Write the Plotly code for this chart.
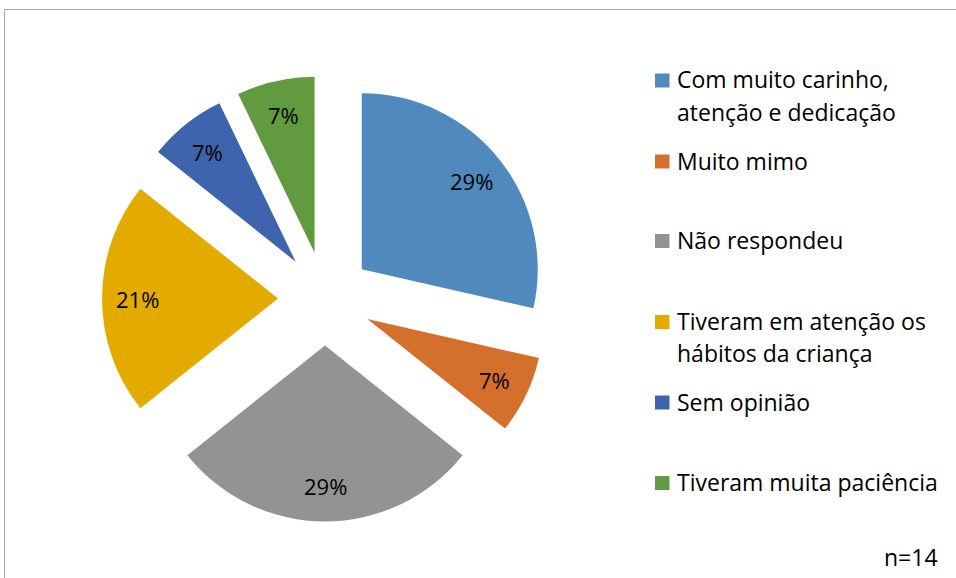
import math
import plotly.graph_objects as go

labels = ["Com muito carinho, atenção e dedicação", "Muito mimo", "Não respondeu",
          "Tiveram em atenção os hábitos da criança", "Sem opinião", "Tiveram muita paciência"]
legend_lines = [["Com muito carinho,", "atenção e dedicação"], ["Muito mimo"], ["Não respondeu"],
                ["Tiveram em atenção os", "hábitos da criança"], ["Sem opinião"], ["Tiveram muita paciência"]]
values = [4, 1, 4, 3, 1, 1]
colors = ["#4F89BD", "#D56F2C", "#939393", "#E3AA00", "#3D64AD", "#629A40"]
note = "n=14"

W, H = 956, 578
FONT = "Open Sans"
FS = 22
FS_LEG = 23

# pie geometry (pixels)
CX, CY, R, PULL = 325, 298.5, 176, 0.267
half = R * (1 + PULL)

fig = go.Figure(go.Pie(
    labels=labels, values=values, sort=False, direction="clockwise", rotation=0,
    marker=dict(colors=colors, line=dict(width=0)),
    pull=[PULL] * len(values),
    textinfo="none",
    domain=dict(x=[(CX - half) / W, (CX + half) / W], y=[1 - (CY + half) / H, 1 - (CY - half) / H]),
    showlegend=False, hoverinfo="label+percent",
))

annotations = []
shapes = []

# percentage labels, placed along each slice bisector
total = sum(values)
cum = 0
for v in values:
    mid = (cum + v / 2) / total * 2 * math.pi
    cum += v
    dist = PULL * R + 0.8 * R
    px = CX + dist * math.sin(mid)
    py = CY - dist * math.cos(mid)
    annotations.append(dict(text=f"{round(100 * v / total)}%", xref="paper", yref="paper",
                            x=px / W, y=1 - py / H, xanchor="center", yanchor="middle",
                            showarrow=False, font=dict(family=FONT, size=FS, color="black")))

# manual legend (layout positions, px from top)
leg_y = [80.5, 161.5, 241, 322, 402.5, 483]
LINE = 32
for lines, col, y in zip(legend_lines, colors, leg_y):
    shapes.append(dict(type="rect", xref="paper", yref="paper",
                       x0=655 / W, x1=669.5 / W, y0=1 - (y + 7) / H, y1=1 - (y - 7) / H,
                       fillcolor=col, line=dict(width=0)))
    for k, t in enumerate(lines):
        annotations.append(dict(text=t, xref="paper", yref="paper", x=675 / W, y=1 - (y + k * LINE - 1) / H,
                                xanchor="left", yanchor="middle", showarrow=False, align="left",
                                font=dict(family=FONT, size=FS_LEG, color="#000000")))
annotations.append(dict(text=note, xref="paper", yref="paper", x=940 / W, y=1 - 557 / H,
                        xanchor="right", yanchor="middle", showarrow=False,
                        font=dict(family=FONT, size=FS_LEG, color="#000000")))
shapes.append(dict(type="rect", xref="paper", yref="paper", x0=4.5 / W, x1=1.05, y0=-0.05, y1=1 - 9.5 / H,
                   line=dict(color="#A6A6A6", width=1), fillcolor="rgba(0,0,0,0)"))

fig.update_layout(width=W, height=H, margin=dict(l=0, r=0, t=0, b=0),
                  paper_bgcolor="white", plot_bgcolor="white",
                  shapes=shapes, annotations=annotations)
fig.write_html("out.html", config={"displayModeBar": False},
               post_script="document.body.style.margin='0px';document.body.style.overflow='hidden';")
